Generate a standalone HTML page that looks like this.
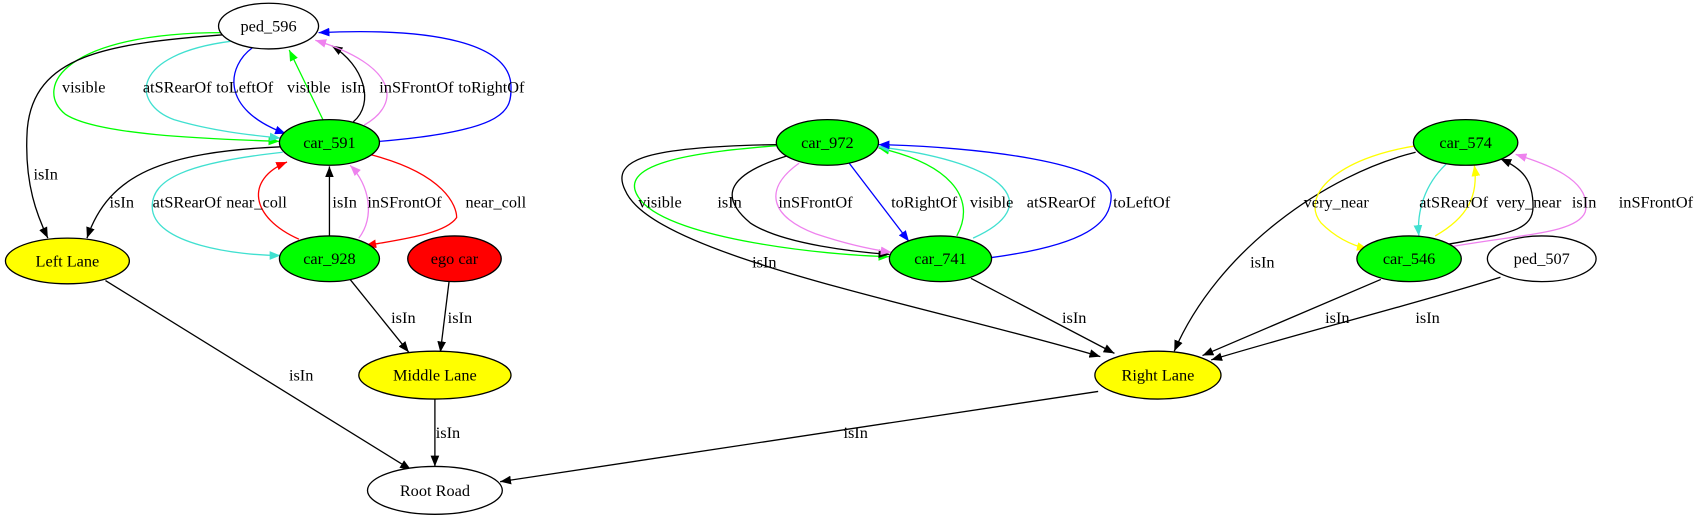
<!DOCTYPE html>
<html><head><meta charset="utf-8"><style>
html,body{margin:0;padding:0;background:#fff;}
svg{display:block;}
text{font-family:"Liberation Serif",serif;font-size:15px;fill:#000;}
</style></head><body>
<svg width="1707" height="523" viewBox="0 0 1570 481" xmlns="http://www.w3.org/2000/svg">
<defs>
<marker id="k" viewBox="0 0 10 8" refX="10" refY="4" markerWidth="10" markerHeight="8" markerUnits="userSpaceOnUse" orient="auto"><path d="M0,0L10,4L0,8z" fill="#000"/></marker>
<marker id="g" viewBox="0 0 10 8" refX="10" refY="4" markerWidth="10" markerHeight="8" markerUnits="userSpaceOnUse" orient="auto"><path d="M0,0L10,4L0,8z" fill="#00ff00"/></marker>
<marker id="b" viewBox="0 0 10 8" refX="10" refY="4" markerWidth="10" markerHeight="8" markerUnits="userSpaceOnUse" orient="auto"><path d="M0,0L10,4L0,8z" fill="#0000ff"/></marker>
<marker id="t" viewBox="0 0 10 8" refX="10" refY="4" markerWidth="10" markerHeight="8" markerUnits="userSpaceOnUse" orient="auto"><path d="M0,0L10,4L0,8z" fill="#40e0d0"/></marker>
<marker id="v" viewBox="0 0 10 8" refX="10" refY="4" markerWidth="10" markerHeight="8" markerUnits="userSpaceOnUse" orient="auto"><path d="M0,0L10,4L0,8z" fill="#ee82ee"/></marker>
<marker id="r" viewBox="0 0 10 8" refX="10" refY="4" markerWidth="10" markerHeight="8" markerUnits="userSpaceOnUse" orient="auto"><path d="M0,0L10,4L0,8z" fill="#ff0000"/></marker>
<marker id="y" viewBox="0 0 10 8" refX="10" refY="4" markerWidth="10" markerHeight="8" markerUnits="userSpaceOnUse" orient="auto"><path d="M0,0L10,4L0,8z" fill="#ffff00"/></marker>
</defs>
<g fill="none" stroke-width="1.2">
<path d="M205,30 C60,30 30,80 60,105 C90,125 200,128 257,130" stroke="#00ff00" marker-end="url(#g)"/>
<path d="M205,32 C100,40 30,50 25,120 C22,170 35,200 44,219" stroke="#000" marker-end="url(#k)"/>
<path d="M212,38 C120,50 120,95 160,110 C200,122 240,125 258,127" stroke="#40e0d0" marker-end="url(#t)"/>
<path d="M232,44 C210,60 200,100 263,123" stroke="#0000ff" marker-end="url(#b)"/>
<path d="M297,110 L266,46" stroke="#00ff00" marker-end="url(#g)"/>
<path d="M325,112 C345,95 335,60 305,42" stroke="#000" marker-end="url(#k)"/>
<path d="M335,115 C370,95 365,60 290,37" stroke="#ee82ee" marker-end="url(#v)"/>
<path d="M349,130 C470,120 470,100 470,80 C470,40 400,25 293,30" stroke="#0000ff" marker-end="url(#b)"/>
<path d="M258,135 C150,140 100,160 80,219" stroke="#000" marker-end="url(#k)"/>
<path d="M260,140 C170,150 140,165 140,190 C140,225 220,235 258,235" stroke="#40e0d0" marker-end="url(#t)"/>
<path d="M275,220 C230,200 225,165 264,149" stroke="#ff0000" marker-end="url(#r)"/>
<path d="M303,217 L303,153" stroke="#000" marker-end="url(#k)"/>
<path d="M330,219 C345,200 340,170 322,152" stroke="#ee82ee" marker-end="url(#v)"/>
<path d="M340,142 C410,160 420,190 420,200 C410,215 370,220 336,226" stroke="#ff0000" marker-end="url(#r)"/>
<path d="M322,257 L376,324" stroke="#000" marker-end="url(#k)"/>
<path d="M413,259 L405,324" stroke="#000" marker-end="url(#k)"/>
<path d="M97,258 L378,432" stroke="#000" marker-end="url(#k)"/>
<path d="M400,366 L400,429" stroke="#000" marker-end="url(#k)"/>
<path d="M1010,360 L460,443" stroke="#000" marker-end="url(#k)"/>
<path d="M714,134 C640,140 560,150 590,185 C620,220 760,235 818,236" stroke="#00ff00" marker-end="url(#g)"/>
<path d="M725,143 C670,160 660,180 690,205 C720,225 790,232 818,234" stroke="#000" marker-end="url(#k)"/>
<path d="M735,150 C700,175 710,200 750,215 C780,225 805,230 820,232" stroke="#ee82ee" marker-end="url(#v)"/>
<path d="M781,150 L836,222" stroke="#0000ff" marker-end="url(#b)"/>
<path d="M880,217 C900,180 870,150 808,136" stroke="#00ff00" marker-end="url(#g)"/>
<path d="M895,219 C960,190 930,150 808,135" stroke="#40e0d0" marker-end="url(#t)"/>
<path d="M911,237 C1000,225 1022,205 1022,180 C1022,150 900,135 808,133" stroke="#0000ff" marker-end="url(#b)"/>
<path d="M714,133 C600,135 560,145 575,175 C600,235 850,280 1012,328" stroke="#000" marker-end="url(#k)"/>
<path d="M893,256 L1025,325" stroke="#000" marker-end="url(#k)"/>
<path d="M1302,140 C1220,160 1120,230 1080,323" stroke="#000" marker-end="url(#k)"/>
<path d="M1270,257 L1106,327" stroke="#000" marker-end="url(#k)"/>
<path d="M1380,255 C1300,280 1200,305 1114,331" stroke="#000" marker-end="url(#k)"/>
<path d="M1303,134 C1230,145 1195,180 1215,205 C1230,220 1245,226 1258,229" stroke="#ffff00" marker-end="url(#y)"/>
<path d="M1330,151 C1310,170 1303,195 1305,217" stroke="#40e0d0" marker-end="url(#t)"/>
<path d="M1320,217 C1350,200 1360,180 1356,152" stroke="#ffff00" marker-end="url(#y)"/>
<path d="M1325,226 C1380,215 1410,215 1410,190 C1410,165 1400,155 1380,146" stroke="#000" marker-end="url(#k)"/>
<path d="M1328,228 C1400,215 1450,215 1458,195 C1465,165 1420,150 1394,142" stroke="#ee82ee" marker-end="url(#v)"/>
</g>
<g stroke="#000" stroke-width="1.2">
<ellipse cx="247" cy="24" rx="46" ry="21" fill="#fff"/>
<ellipse cx="303" cy="131" rx="46" ry="21" fill="#00ff00"/>
<ellipse cx="303" cy="238" rx="46" ry="21" fill="#00ff00"/>
<ellipse cx="418" cy="238" rx="43" ry="21" fill="#ff0000"/>
<ellipse cx="62" cy="240" rx="57" ry="21" fill="#ffff00"/>
<ellipse cx="400" cy="345" rx="70" ry="22" fill="#ffff00"/>
<ellipse cx="400" cy="451" rx="62" ry="22" fill="#fff"/>
<ellipse cx="761" cy="131" rx="47" ry="21" fill="#00ff00"/>
<ellipse cx="865" cy="238" rx="47" ry="21" fill="#00ff00"/>
<ellipse cx="1348" cy="131" rx="48" ry="21" fill="#00ff00"/>
<ellipse cx="1296" cy="238" rx="48" ry="21" fill="#00ff00"/>
<ellipse cx="1418" cy="238" rx="50" ry="21" fill="#fff"/>
<ellipse cx="1065" cy="345" rx="58" ry="22" fill="#ffff00"/>
</g>
<g text-anchor="middle">
<text x="247" y="29">ped_596</text>
<text x="303" y="136">car_591</text>
<text x="303" y="243">car_928</text>
<text x="418" y="243">ego car</text>
<text x="62" y="245">Left Lane</text>
<text x="400" y="350">Middle Lane</text>
<text x="400" y="456">Root Road</text>
<text x="761" y="136">car_972</text>
<text x="865" y="243">car_741</text>
<text x="1348" y="136">car_574</text>
<text x="1296" y="243">car_546</text>
<text x="1418" y="243">ped_507</text>
<text x="1065" y="350">Right Lane</text>
</g>
<g text-anchor="middle">
<text x="77" y="85">visible</text>
<text x="163" y="85">atSRearOf</text>
<text x="225" y="85">toLeftOf</text>
<text x="284" y="85">visible</text>
<text x="325" y="85">isIn</text>
<text x="383" y="85">inSFrontOf</text>
<text x="452" y="85">toRightOf</text>
<text x="42" y="165">isIn</text>
<text x="112" y="191">isIn</text>
<text x="172" y="191">atSRearOf</text>
<text x="236" y="191">near_coll</text>
<text x="317" y="191">isIn</text>
<text x="372" y="191">inSFrontOf</text>
<text x="456" y="191">near_coll</text>
<text x="371" y="297">isIn</text>
<text x="423" y="297">isIn</text>
<text x="277" y="350">isIn</text>
<text x="412" y="403">isIn</text>
<text x="787" y="403">isIn</text>
<text x="607" y="191">visible</text>
<text x="671" y="191">isIn</text>
<text x="750" y="191">inSFrontOf</text>
<text x="850" y="191">toRightOf</text>
<text x="912" y="191">visible</text>
<text x="976" y="191">atSRearOf</text>
<text x="1050" y="191">toLeftOf</text>
<text x="703" y="246">isIn</text>
<text x="988" y="297">isIn</text>
<text x="1161" y="246">isIn</text>
<text x="1230" y="297">isIn</text>
<text x="1313" y="297">isIn</text>
<text x="1229" y="191">very_near</text>
<text x="1337" y="191">atSRearOf</text>
<text x="1406" y="191">very_near</text>
<text x="1457" y="191">isIn</text>
<text x="1523" y="191">inSFrontOf</text>
</g>
</svg>
</body></html>
